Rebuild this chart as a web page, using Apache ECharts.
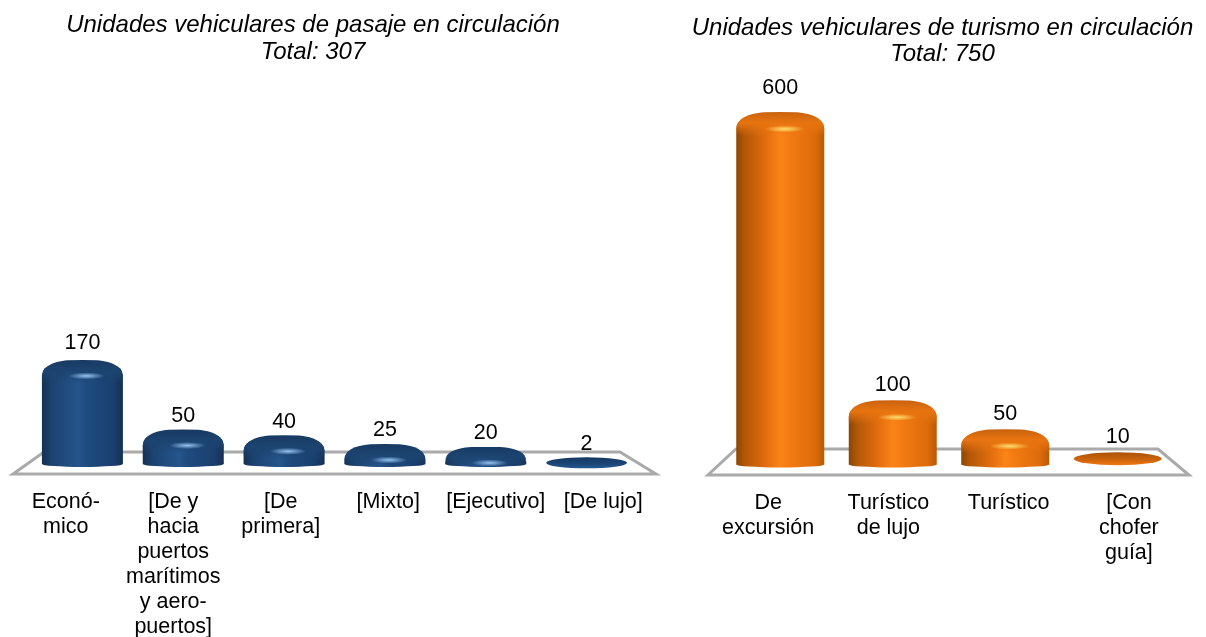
<!DOCTYPE html>
<html>
<head>
<meta charset="utf-8">
<title>Unidades vehiculares</title>
<script src="https://cdn.jsdelivr.net/npm/echarts@6/dist/echarts.min.js"></script>
<style>
html,body{margin:0;padding:0;background:#fff}
#main{width:1206px;height:637px}
</style>
</head>
<body>
<div id="main"></div>
<script>
var pasajeCats = ['Econó-\nmico', '[De y\nhacia\npuertos\nmarítimos\ny aero-\npuertos]', '[De\nprimera]', '[Mixto]', '[Ejecutivo]', '[De lujo]'];
var pasajeVals = [170, 50, 40, 25, 20, 2];
var turismoCats = ['De\nexcursión', 'Turístico\nde lujo', 'Turístico', '[Con\nchofer\nguía]'];
var turismoVals = [600, 100, 50, 10];

var FONT = '"Liberation Sans", Arial, sans-serif';
var AXIS_MAX = 600;
var PX_PER_UNIT = 0.58;

function hGrad(stops) {
    return {type: 'linear', x: 0, y: 0, x2: 1, y2: 0, colorStops: stops};
}
function vGrad(stops) {
    return {type: 'linear', x: 0, y: 0, x2: 0, y2: 1, colorStops: stops};
}

var blue = {
    body: hGrad([
        {offset: 0, color: '#14304f'},
        {offset: 0.12, color: '#1c4270'},
        {offset: 0.45, color: '#25558c'},
        {offset: 0.55, color: '#1f4b7f'},
        {offset: 0.88, color: '#1a3f6e'},
        {offset: 1, color: '#152f55'}
    ]),
    disc: vGrad([{offset: 0, color: '#143860'}, {offset: 0.6, color: '#1d4677'}, {offset: 1, color: '#265a92'}]),
    dome: vGrad([
        {offset: 0, color: 'rgba(24,58,98,1)'},
        {offset: 0.45, color: 'rgba(28,68,112,1)'},
        {offset: 0.8, color: 'rgba(28,68,112,0.35)'},
        {offset: 1, color: 'rgba(28,68,112,0)'}
    ]),
    glow: ['rgba(150,195,240,1)', 'rgba(150,195,240,0)']
};
var orange = {
    body: hGrad([
        {offset: 0, color: '#8c4504'},
        {offset: 0.1, color: '#b45808'},
        {offset: 0.35, color: '#e46f0e'},
        {offset: 0.5, color: '#fb8418'},
        {offset: 0.62, color: '#f27a12'},
        {offset: 0.9, color: '#dc6a0a'},
        {offset: 1, color: '#b95a06'}
    ]),
    disc: vGrad([{offset: 0, color: '#a85408'}, {offset: 0.65, color: '#d2660b'}, {offset: 1, color: '#f07a12'}]),
    dome: vGrad([
        {offset: 0, color: 'rgba(200,98,14,1)'},
        {offset: 0.45, color: 'rgba(232,116,16,1)'},
        {offset: 0.8, color: 'rgba(232,116,16,0.35)'},
        {offset: 1, color: 'rgba(232,116,16,0)'}
    ]),
    glow: ['rgba(255,222,110,1)', 'rgba(255,222,110,0)']
};

// rounded top of the cylinder, stretched to the symbol size
var DOME = 'path://M0,100 L0,73 C0,30 12,8 32,2 Q50,0 68,2 C88,8 100,30 100,73 L100,100 Z';

function buildSeries(idx, values, look, barW, capH, labelGap, maxGap) {
    var top = Math.max.apply(null, values);
    // the shortest bars are only a flat disc, without bevel
    var bevelled = values.map(function (v) { return v >= 20 && v / top >= 0.03 ? v : '-'; });
    return [
        {
            type: 'bar', xAxisIndex: idx, yAxisIndex: idx, z: 3,
            barWidth: barW,
            itemStyle: {color: look.body, borderRadius: [10, 10, 0, 0]},
            label: {show: true, position: 'top', distance: labelGap, fontFamily: FONT, fontSize: 21.5, color: '#000'},
            data: values.map(function (v, i) {
                var item = {value: v};
                if (v === top) item.label = {distance: maxGap};
                if (bevelled[i] === '-') item.itemStyle = {color: 'transparent'};
                return item;
            })
        },
        {
            type: 'pictorialBar', xAxisIndex: idx, yAxisIndex: idx, z: 2,
            symbol: 'circle', symbolPosition: 'start', symbolOffset: [0, '50%'],
            symbolSize: [barW, 6], itemStyle: {color: look.body}, silent: true,
            data: bevelled
        },
        {
            type: 'pictorialBar', xAxisIndex: idx, yAxisIndex: idx, z: 4,
            symbol: DOME, symbolPosition: 'end', symbolOffset: [0, -capH / 2], silent: true,
            itemStyle: {color: look.dome},
            data: bevelled.map(function (v) {
                if (v === '-') return '-';
                return {value: v, symbolSize: [barW, Math.min(24, v * PX_PER_UNIT + capH / 2 + 2)]};
            })
        },
        {
            type: 'pictorialBar', xAxisIndex: idx, yAxisIndex: idx, z: 5,
            symbol: 'circle', symbolPosition: 'end', symbolOffset: [0, '-50%'], silent: true,
            symbolSize: [barW, capH], itemStyle: {color: look.disc},
            data: values.map(function (v, i) { return bevelled[i] === '-' ? v : '-'; })
        },
        {
            type: 'pictorialBar', xAxisIndex: idx, yAxisIndex: idx, z: 6,
            symbol: 'circle', symbolPosition: 'end', symbolOffset: [barW * 0.05, 7],
            symbolSize: [barW * 0.45, 7], silent: true,
            itemStyle: {
                color: {type: 'radial', x: 0.5, y: 0.5, r: 0.5, colorStops: [
                    {offset: 0, color: look.glow[0]},
                    {offset: 1, color: look.glow[1]}
                ]}
            },
            data: bevelled
        }
    ];
}

function barAxis(idx, cats) {
    return {
        type: 'category', gridIndex: idx, data: cats,
        axisLine: {show: false}, axisTick: {show: false}, axisLabel: {show: false}
    };
}
// the labels run along the front edge of the floor, wider than the bars
function labelAxis(idx, cats) {
    return {
        type: 'category', gridIndex: idx, data: cats,
        axisLine: {show: false}, axisTick: {show: false},
        axisLabel: {interval: 0, margin: 26, fontFamily: FONT, fontSize: 21.5, lineHeight: 25, color: '#000', align: 'center'}
    };
}
function yAxis(idx) {
    return {type: 'value', gridIndex: idx, min: 0, max: AXIS_MAX, show: false, splitLine: {show: false}};
}
function floor(points) {
    return {
        type: 'polygon', z: 1,
        shape: {points: points},
        style: {fill: '#fff', stroke: '#aaaaaa', lineWidth: 3}
    };
}

var myChart = echarts.init(document.getElementById('main'));
var option = {
    animation: false,
    backgroundColor: '#fff',
    title: [
        {
            text: 'Unidades vehiculares de pasaje en circulación\nTotal: 307',
            left: 308, top: 7, textAlign: 'center',
            textStyle: {fontFamily: FONT, fontSize: 24, fontStyle: 'italic', fontWeight: 'normal', lineHeight: 27, color: '#000'}
        },
        {
            text: 'Unidades vehiculares de turismo en circulación\nTotal: 750',
            left: 937.5, top: 10, textAlign: 'center',
            textStyle: {fontFamily: FONT, fontSize: 24, fontStyle: 'italic', fontWeight: 'normal', lineHeight: 26, color: '#000'}
        }
    ],
    grid: [
        {left: 32, width: 605, top: 116, height: 348, outerBoundsMode: 'none'},
        {left: 724, width: 450, top: 118.5, height: 346, outerBoundsMode: 'none'},
        {left: 12, width: 645, top: 116, height: 348, outerBoundsMode: 'none'},
        {left: 708, width: 481, top: 118.5, height: 346, outerBoundsMode: 'none'}
    ],
    xAxis: [barAxis(0, pasajeCats), barAxis(1, turismoCats), labelAxis(2, pasajeCats), labelAxis(3, turismoCats)],
    yAxis: [yAxis(0), yAxis(1), yAxis(2), yAxis(3)],
    graphic: [
        floor([[13, 474], [656, 474], [620, 452], [44, 452]]),
        floor([[708, 475], [1189, 475], [1158, 449], [736, 449]])
    ],
    series: buildSeries(0, pasajeVals, blue, 81, 11, 8, 11)
        .concat(buildSeries(1, turismoVals, orange, 88, 13, 11, 19))
};
myChart.setOption(option);
</script>
</body>
</html>
